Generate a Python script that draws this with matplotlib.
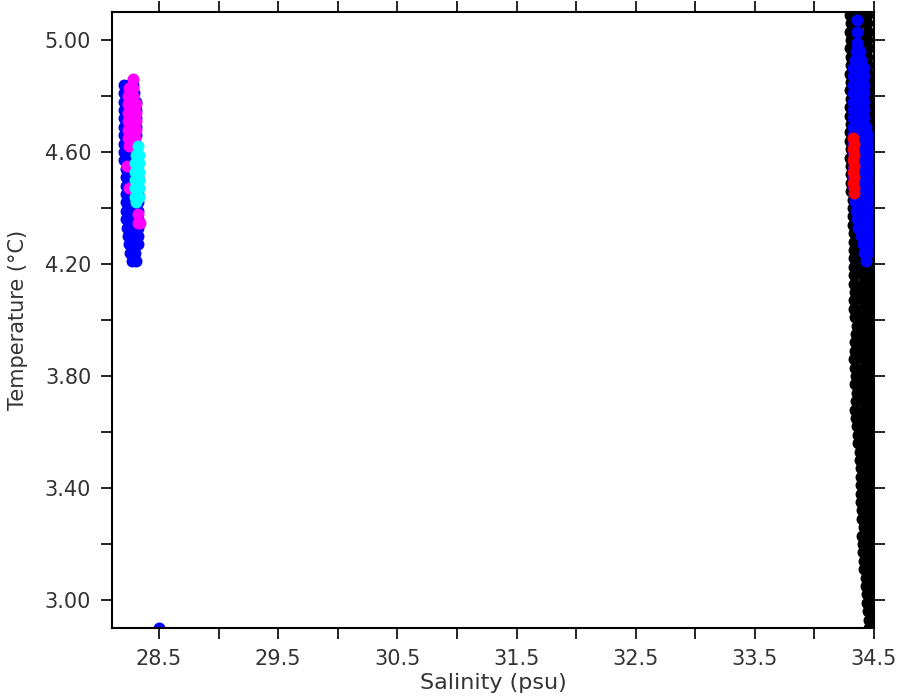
import matplotlib
matplotlib.use('Agg')
import matplotlib.pyplot as plt
import numpy as np

# T-S diagram, values
# each group: temperature rows and the salinities seen on that row

black_T = [5.09, 5.06, 5.03, 5.00, 4.97, 4.94, 4.91, 4.88, 4.85, 4.82,
           4.79, 4.76, 4.73, 4.70, 4.67, 4.64, 4.61, 4.58, 4.55, 4.52,
           4.49, 4.46, 4.43, 4.40, 4.37, 4.34, 4.31, 4.28, 4.25, 4.22,
           4.19, 4.16, 4.13, 4.10, 4.07, 4.04, 4.01, 3.98, 3.95, 3.92,
           3.89, 3.86, 3.83, 3.80, 3.77, 3.74, 3.71, 3.68, 3.65, 3.62,
           3.59, 3.56, 3.53, 3.50, 3.47, 3.44, 3.41, 3.38, 3.35, 3.32,
           3.29, 3.26, 3.23, 3.20, 3.17, 3.14, 3.11, 3.08, 3.05, 3.02,
           2.99, 2.96, 2.93, 2.90]
black_S = [[34.30, 34.37, 34.44], [34.31, 34.38, 34.44], [34.30, 34.37, 34.45],
           [34.31, 34.38, 34.44], [34.30, 34.38, 34.45], [34.31, 34.37, 34.44],
           [34.31, 34.38, 34.45], [34.30, 34.38, 34.45], [34.31, 34.38, 34.45],
           [34.30, 34.37, 34.46], [34.31, 34.38, 34.46], [34.30, 34.38, 34.46],
           [34.30, 34.38, 34.46], [34.31, 34.38, 34.46], [34.30, 34.37, 34.46],
           [34.30, 34.38, 34.47], [34.31, 34.38, 34.47], [34.30, 34.38, 34.47],
           [34.31, 34.39, 34.47], [34.31, 34.39, 34.47], [34.31, 34.39, 34.47],
           [34.31, 34.39, 34.47], [34.32, 34.39, 34.47], [34.32, 34.40, 34.47],
           [34.32, 34.40, 34.47], [34.32, 34.40, 34.47], [34.33, 34.40, 34.47],
           [34.33, 34.40, 34.47], [34.33, 34.40, 34.47], [34.33, 34.40, 34.47],
           [34.33, 34.41, 34.47], [34.33, 34.41, 34.47], [34.33, 34.41, 34.47],
           [34.34, 34.41, 34.47], [34.33, 34.41, 34.47], [34.33, 34.40, 34.47],
           [34.34, 34.41, 34.47], [34.36, 34.42, 34.47], [34.35, 34.42, 34.47],
           [34.34, 34.41, 34.47], [34.34, 34.41, 34.47], [34.33, 34.41, 34.47],
           [34.34, 34.42, 34.47], [34.35, 34.42, 34.47], [34.34, 34.42, 34.47],
           [34.36, 34.42, 34.47], [34.35, 34.42, 34.48], [34.34, 34.42, 34.48],
           [34.35, 34.42, 34.48], [34.36, 34.42, 34.48], [34.37, 34.43, 34.48],
           [34.37, 34.43, 34.48], [34.38, 34.43, 34.48], [34.38, 34.43, 34.48],
           [34.39, 34.44, 34.48], [34.39, 34.44, 34.48], [34.39, 34.44, 34.48],
           [34.39, 34.44, 34.48], [34.39, 34.44, 34.48], [34.40, 34.44, 34.48],
           [34.40, 34.44, 34.48], [34.42, 34.45, 34.48], [34.40, 34.45, 34.48],
           [34.41, 34.45, 34.48], [34.41, 34.45, 34.48], [34.42, 34.45, 34.48],
           [34.42, 34.46, 34.49], [34.43, 34.46, 34.49], [34.43, 34.46, 34.49],
           [34.44, 34.47, 34.49], [34.44, 34.47, 34.49], [34.45, 34.47, 34.49],
           [34.46, 34.48, 34.49], [34.46, 34.48]]

blue_T = [5.07, 5.03, 4.99, 4.96, 4.93, 4.90, 4.87, 4.84, 4.81, 4.78,
          4.75, 4.72, 4.69, 4.66, 4.63, 4.60, 4.57, 4.54, 4.51, 4.48,
          4.45, 4.42, 4.39, 4.36, 4.33, 4.30, 4.27, 4.24, 4.21,
          # fresher cluster
          4.84, 4.81, 4.78, 4.75, 4.72, 4.69, 4.66, 4.63, 4.60, 4.57,
          4.54, 4.51, 4.48, 4.45, 4.42, 4.39, 4.36, 4.33, 4.30, 4.27,
          4.24, 4.21,
          # lone point on the bottom axis
          2.90]
blue_S = [[34.36], [34.36], [34.36], [34.35, 34.38], [34.34, 34.39],
          [34.32, 34.37, 34.42], [34.32, 34.37, 34.42], [34.32, 34.37, 34.42],
          [34.32, 34.37, 34.42], [34.32, 34.37, 34.42], [34.32, 34.37, 34.42],
          [34.32, 34.37, 34.42], [34.32, 34.38, 34.43], [34.32, 34.38, 34.45],
          [34.32, 34.38, 34.45], [34.32, 34.38, 34.45], [34.32, 34.38, 34.45],
          [34.32, 34.38, 34.45], [34.32, 34.38, 34.45], [34.32, 34.38, 34.45],
          [34.33, 34.39, 34.45], [34.34, 34.40, 34.45], [34.35, 34.40, 34.45],
          [34.36, 34.41, 34.45], [34.37, 34.42, 34.45], [34.39, 34.43, 34.45],
          [34.41, 34.45], [34.42, 34.45], [34.43],
          [28.21, 28.25, 28.28], [28.21, 28.25, 28.29], [28.21, 28.26, 28.31],
          [28.21, 28.26, 28.31], [28.21, 28.26, 28.31], [28.21, 28.26, 28.31],
          [28.21, 28.26, 28.31], [28.21, 28.26, 28.31], [28.21, 28.26, 28.31],
          [28.21, 28.26, 28.31], [28.22, 28.26, 28.31], [28.22, 28.27, 28.32],
          [28.22, 28.27, 28.32], [28.22, 28.27, 28.32], [28.22, 28.27, 28.32],
          [28.22, 28.27, 28.32], [28.22, 28.27, 28.32], [28.23, 28.28, 28.32],
          [28.24, 28.28, 28.32], [28.25, 28.29, 28.32], [28.26, 28.30],
          [28.27, 28.31],
          [28.50]]

magenta_T = [4.86, 4.83, 4.80, 4.77, 4.74, 4.71, 4.68, 4.65, 4.62,
             4.55, 4.47, 4.38, 4.345]
magenta_S = [[28.28], [28.25, 28.28], [28.24, 28.28], [28.24, 28.28, 28.31],
             [28.24, 28.28, 28.31], [28.24, 28.28, 28.31], [28.24, 28.28, 28.31],
             [28.24, 28.28, 28.30], [28.25, 28.28], [28.23], [28.25],
             [28.32], [28.32, 28.34]]

cyan_T = [4.62, 4.59, 4.56, 4.53, 4.50, 4.47, 4.44, 4.42]
cyan_S = [[28.32], [28.31, 28.33], [28.30, 28.33], [28.30, 28.33],
          [28.30, 28.33], [28.30, 28.33], [28.30, 28.33], [28.31]]

red_T = [4.65, 4.63, 4.61, 4.59, 4.57, 4.55, 4.53, 4.51, 4.49, 4.47, 4.455]
red_S = [[34.32], [34.33], [34.32], [34.33], [34.32], [34.33],
         [34.32], [34.33], [34.32], [34.33], [34.33]]

groups = [(black_S, black_T, 'black'),
          (blue_S, blue_T, 'blue'),
          (magenta_S, magenta_T, 'magenta'),
          (cyan_S, cyan_T, 'cyan'),
          (red_S, red_T, 'red')]

fig = plt.figure(figsize=(9, 7), dpi=100)
ax = fig.add_axes([0.1244, 0.1029, 0.8467, 0.88])

for s_rows, t_vals, col in groups:
    xs, ys = [], []
    for t, row in zip(t_vals, s_rows):
        for s in row:
            xs.append(s)
            ys.append(t)
    ax.plot(xs, ys, 'o', color=col, ms=8.6, mew=0, linestyle='none')

ax.set_xlim(28.105, 34.5)
ax.set_ylim(2.9, 5.1)

xt = np.arange(28.5, 34.51, 0.5)
ax.set_xticks(xt)
ax.set_xticklabels(['%.1f' % v if i % 2 == 0 else '' for i, v in enumerate(xt)])
yt = np.arange(3.0, 5.01, 0.2)
ax.set_yticks(yt)
ax.set_yticklabels(['%.2f' % v if i % 2 == 0 else '' for i, v in enumerate(yt)])

ax.tick_params(direction='out', length=8, width=1.2, labelsize=15,
               labelcolor='#333333', top=True, right=True, pad=7)
for sp in ax.spines.values():
    sp.set_linewidth(1.5)

ax.set_xlabel('Salinity (psu)', fontsize=16, color='#333333', labelpad=3)
ax.set_ylabel('Temperature (\u00b0C)', fontsize=15, color='#333333', labelpad=12)

fig.savefig('out.png', dpi=100)
